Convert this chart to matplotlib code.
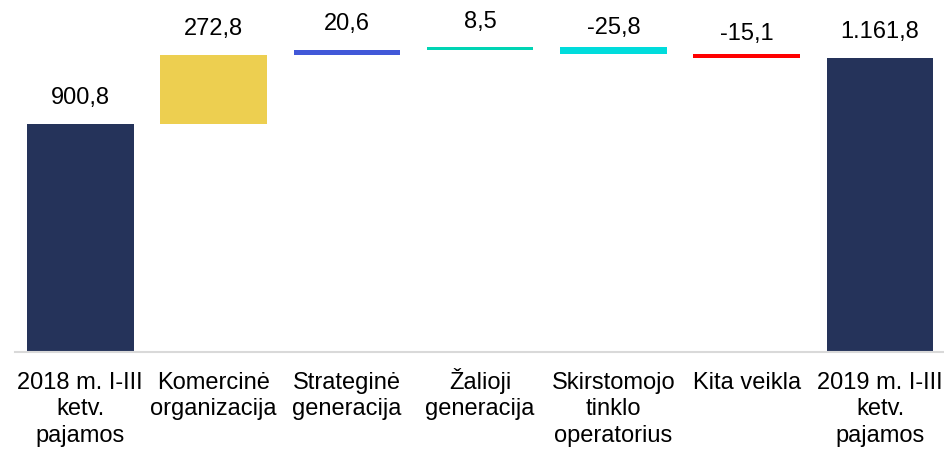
import matplotlib.pyplot as plt

plt.rcParams['font.family'] = ['Liberation Sans', 'DejaVu Sans']

categories = ["2018 m. I-III\nketv.\npajamos", "Komercinė\norganizacija", "Strateginė\ngeneracija",
              "Žalioji\ngeneracija", "Skirstomojo\ntinklo\noperatorius", "Kita veikla",
              "2019 m. I-III\nketv.\npajamos"]
values = [900.8, 272.8, 20.6, 8.5, -25.8, -15.1, 1161.8]
labels = ["900,8", "272,8", "20,6", "8,5", "-25,8", "-15,1", "1.161,8"]
is_total = [True, False, False, False, False, False, True]
colors = ["#25335A", "#EDCF50", "#4158D8", "#00D4B4", "#00DCDC", "#FF0000", "#25335A"]

fig = plt.figure(figsize=(9.44, 4.49), dpi=100)
ax = fig.add_axes([15 / 944, 97 / 449, 929 / 944, 352 / 449])

running = 0
for i, v in enumerate(values):
    if is_total[i]:
        bottom, height = 0, v
        running = v
    else:
        if v >= 0:
            bottom, height = running, v
        else:
            bottom, height = running + v, -v
        running += v
    ax.bar(i, height, bottom=bottom, width=0.8, color=colors[i])
    off = 10 if v < 0 else 14
    ax.annotate(labels[i], (i, bottom + height), xytext=(0, off), textcoords='offset points',
                ha='center', va='baseline', fontsize=17, color='black')

# category labels, one line at a time so baselines line up
for i, cat in enumerate(categories):
    for k, line in enumerate(cat.split("\n")):
        ax.annotate(line, (i, 0), xycoords=('data', 'axes fraction'),
                    xytext=(0, -26.5 - 19.1 * k), textcoords='offset points',
                    ha='center', va='baseline', fontsize=17, color='black',
                    annotation_clip=False)

ax.set_xlim(-0.49, 6.48)
ax.set_ylim(0, 1390)
ax.set_xticks([])
ax.set_yticks([])
for s in ['top', 'right', 'left']:
    ax.spines[s].set_visible(False)
ax.spines['bottom'].set_color('#D9D9D9')
ax.spines['bottom'].set_linewidth(1.5)

fig.savefig('out.png', dpi=100)
